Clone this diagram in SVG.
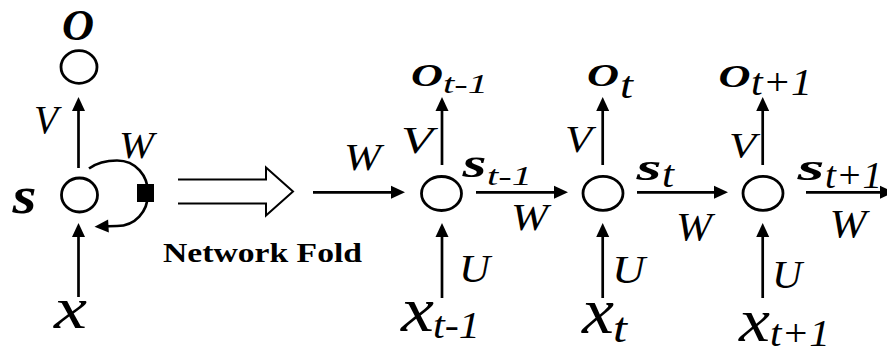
<svg xmlns="http://www.w3.org/2000/svg" width="887" height="347" viewBox="0 0 887 347">
<style>
text{font-family:"Liberation Serif","Times New Roman",serif;fill:#000}
.i{font-style:italic}
.bi{font-style:italic;font-weight:bold}
.b{font-weight:bold}
.node{fill:none;stroke:#000;stroke-width:2.8}
.conn{fill:none;stroke:#000;stroke-width:2.7}
.arr{marker-end:url(#ah)}
</style>
<defs>
<marker id="ah" markerUnits="userSpaceOnUse" markerWidth="16" markerHeight="14" refX="9" refY="7" orient="auto" overflow="visible"><path d="M0,0.5 L14,7 L0,13.5 Z" fill="#000"/></marker>
</defs>
<rect width="887" height="347" fill="#fff"/>

<!-- folded network -->
<g id="node-o">
<ellipse class="node" cx="79" cy="67" rx="18" ry="16.3"/>
<text class="bi" x="62" y="40" font-size="44" textLength="32" lengthAdjust="spacingAndGlyphs">O</text>
</g>
<g id="node-s">
<ellipse class="node" cx="79.5" cy="195" rx="18" ry="17"/>
<text class="bi" x="12.5" y="213" font-size="52" textLength="24" lengthAdjust="spacingAndGlyphs">s</text>
</g>
<g id="node-x">
<text class="i" x="54" y="328" font-size="59" textLength="33" lengthAdjust="spacingAndGlyphs">x</text>
</g>

<!-- unfolded network -->
<g id="node-o-t-1">
<text class="bi" x="411" y="86" font-size="31" textLength="32" lengthAdjust="spacingAndGlyphs">O</text>
<text class="i" x="443" y="93" font-size="27" textLength="45" lengthAdjust="spacingAndGlyphs">t-1</text>
</g>
<g id="node-s-t-1">
<ellipse class="node" cx="441.5" cy="193.5" rx="20" ry="17"/>
<text class="bi" x="462.5" y="177" font-size="40" textLength="24" lengthAdjust="spacingAndGlyphs">s</text>
<text class="i" x="487" y="185" font-size="28" textLength="45" lengthAdjust="spacingAndGlyphs">t-1</text>
</g>
<g id="node-x-t-1">
<text class="i" x="401" y="331" font-size="63" textLength="33" lengthAdjust="spacingAndGlyphs">x</text>
<text class="i" x="433" y="338" font-size="37" textLength="47" lengthAdjust="spacingAndGlyphs">t-1</text>
</g>

<g id="node-o-t">
<text class="bi" x="587" y="86" font-size="31" textLength="32" lengthAdjust="spacingAndGlyphs">O</text>
<text class="i" x="620" y="98" font-size="38" textLength="13" lengthAdjust="spacingAndGlyphs">t</text>
</g>
<g id="node-s-t">
<ellipse class="node" cx="603" cy="193.3" rx="20" ry="17"/>
<text class="bi" x="636.5" y="180" font-size="38" textLength="25" lengthAdjust="spacingAndGlyphs">s</text>
<text class="i" x="662" y="187" font-size="38" textLength="12" lengthAdjust="spacingAndGlyphs">t</text>
</g>
<g id="node-x-t">
<text class="i" x="582" y="333" font-size="65" textLength="32" lengthAdjust="spacingAndGlyphs">x</text>
<text class="i" x="613" y="342" font-size="42" textLength="14" lengthAdjust="spacingAndGlyphs">t</text>
</g>

<g id="node-o-t1">
<text class="bi" x="718.5" y="87" font-size="31" textLength="32" lengthAdjust="spacingAndGlyphs">O</text>
<text class="i" x="751" y="95" font-size="37" textLength="61" lengthAdjust="spacingAndGlyphs">t+1</text>
</g>
<g id="node-s-t1">
<ellipse class="node" cx="763" cy="193.3" rx="20" ry="17"/>
<text class="bi" x="797.5" y="180" font-size="38" textLength="27" lengthAdjust="spacingAndGlyphs">s</text>
<text class="i" x="825" y="188" font-size="37" textLength="57" lengthAdjust="spacingAndGlyphs">t+1</text>
</g>
<g id="node-x-t1">
<text class="i" x="739" y="341" font-size="61" textLength="31" lengthAdjust="spacingAndGlyphs">x</text>
<text class="i" x="770" y="346" font-size="37" textLength="60" lengthAdjust="spacingAndGlyphs">t+1</text>
</g>

<g id="connectors">
<!-- folded -->
<line class="conn arr" x1="78.5" y1="168" x2="78.5" y2="102"/>
<line class="conn arr" x1="78.5" y1="297" x2="78.5" y2="228"/>
<path class="conn arr" d="M89 168.5 C98 162,106 160.5,117 160.5 C136 160.5,148 176,148 193 C148 212,135 226,117 226 C111 226,105 226.2,99.5 226.5"/>
<rect x="137" y="184" width="17" height="18" fill="#000"/>
<text class="i" x="34" y="133" font-size="39" textLength="24" lengthAdjust="spacingAndGlyphs">V</text>
<text class="i" x="119" y="158" font-size="38" textLength="35" lengthAdjust="spacingAndGlyphs">W</text>

<!-- fold arrow -->
<path d="M178 179.5 H266 V167.5 L293 191.5 L266 215.5 V203.5 H178" fill="none" stroke="#000" stroke-width="2"/>
<text class="b" x="163" y="262" font-size="27" textLength="199" lengthAdjust="spacingAndGlyphs">Network Fold</text>

<!-- unfolded horizontal -->
<line class="conn arr" x1="313" y1="192.3" x2="400" y2="192.3"/>
<line class="conn arr" x1="476" y1="192.3" x2="563" y2="192.3"/>
<line class="conn arr" x1="637" y1="192.3" x2="723" y2="192.3"/>
<line class="conn arr" x1="806" y1="192.3" x2="889" y2="192.3"/>
<text class="i" x="344" y="170" font-size="38" textLength="37" lengthAdjust="spacingAndGlyphs">W</text>
<text class="i" x="511" y="230" font-size="38" textLength="37" lengthAdjust="spacingAndGlyphs">W</text>
<text class="i" x="676" y="240" font-size="41" textLength="36" lengthAdjust="spacingAndGlyphs">W</text>
<text class="i" x="829.5" y="237" font-size="41" textLength="37" lengthAdjust="spacingAndGlyphs">W</text>

<!-- unfolded vertical V -->
<line class="conn arr" x1="442" y1="165" x2="442" y2="102"/>
<line class="conn arr" x1="602.7" y1="165" x2="602.7" y2="102"/>
<line class="conn arr" x1="762.7" y1="165" x2="762.7" y2="102"/>
<text class="i" x="401" y="153" font-size="38" textLength="32" lengthAdjust="spacingAndGlyphs">V</text>
<text class="i" x="565" y="152" font-size="38" textLength="27" lengthAdjust="spacingAndGlyphs">V</text>
<text class="i" x="729" y="158" font-size="35" textLength="27" lengthAdjust="spacingAndGlyphs">V</text>

<!-- unfolded vertical U -->
<line class="conn arr" x1="442" y1="298" x2="442" y2="228"/>
<line class="conn arr" x1="602.7" y1="298" x2="602.7" y2="228"/>
<line class="conn arr" x1="762.7" y1="298" x2="762.7" y2="228"/>
<text class="i" x="459" y="282" font-size="40" textLength="31" lengthAdjust="spacingAndGlyphs">U</text>
<text class="i" x="612" y="283" font-size="41" textLength="33" lengthAdjust="spacingAndGlyphs">U</text>
<text class="i" x="772" y="288" font-size="41" textLength="30" lengthAdjust="spacingAndGlyphs">U</text>
</g>
</svg>
